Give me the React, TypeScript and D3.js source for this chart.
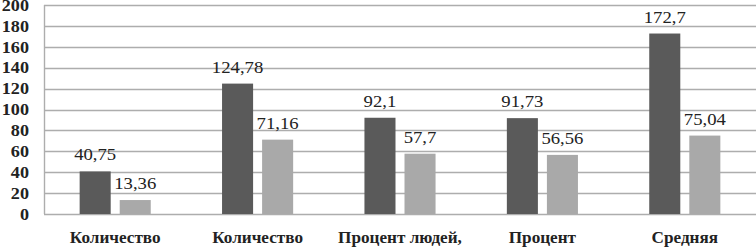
import { useEffect, useRef } from "react";
import * as d3 from "d3";

const categories = ["Количество", "Количество", "Процент людей,", "Процент", "Средняя"];
const seriesA = [40.75, 124.78, 92.1, 91.73, 172.7];
const seriesB = [13.36, 71.16, 57.7, 56.56, 75.04];
const yTicks = [0, 20, 40, 60, 80, 100, 120, 140, 160, 180, 200];

const fmt = (v: number) => String(v).replace(".", ",");

export default function App() {
  const svgRef = useRef<SVGSVGElement>(null);

  useEffect(() => {
    const el = svgRef.current;
    if (!el) return;
    const w = 756;
    const h = 247;
    const left = 44;
    const right = 756;
    const top = 5;
    const bottom = 214;
    const stretch = 1.1; // the scanned text is a bit wider than it is tall

    const svg = d3.select(el);
    svg.selectAll("*").remove();
    svg.append("rect").attr("width", w).attr("height", h).attr("fill", "#fff");

    const x = d3.scaleBand<number>().domain(d3.range(categories.length)).range([left, right]);
    const inner = d3
      .scaleBand<number>()
      .domain([0, 1])
      .range([0, x.bandwidth()])
      .paddingInner(0.225)
      .paddingOuter(0.89);
    const y = d3.scaleLinear().domain([0, 200]).range([bottom, top]);

    const font = "'Liberation Serif', 'DejaVu Serif', serif";

    // gridlines
    svg
      .append("g")
      .selectAll("line")
      .data(yTicks)
      .join("line")
      .attr("x1", left)
      .attr("x2", right)
      .attr("y1", (d) => Math.round(y(d)) + 0.5)
      .attr("y2", (d) => Math.round(y(d)) + 0.5)
      .attr("stroke", "#adadad")
      .attr("stroke-width", 1.4);

    // axis line
    svg
      .append("line")
      .attr("x1", left + 0.5)
      .attr("x2", left + 0.5)
      .attr("y1", top)
      .attr("y2", bottom)
      .attr("stroke", "#adadad")
      .attr("stroke-width", 1.4);

    // y tick labels
    svg
      .append("g")
      .selectAll("text")
      .data(yTicks)
      .join("text")
      .attr("transform", (d) => `translate(29,${y(d)}) scale(${stretch},1)`)
      .attr("dy", "0.35em")
      .attr("text-anchor", "end")
      .style("font-family", font)
      .style("font-weight", "bold")
      .style("font-size", "16.5px")
      .attr("fill", "#222")
      .text((d) => d);

    const series = [
      { values: seriesA, color: "#5a5a5a" },
      { values: seriesB, color: "#a9a9a9" },
    ];

    series.forEach((s, si) => {
      const g = svg.append("g");
      g.selectAll("rect")
        .data(s.values)
        .join("rect")
        .attr("x", (_, i) => (x(i) ?? 0) + (inner(si) ?? 0))
        .attr("y", (d) => y(d))
        .attr("width", inner.bandwidth())
        .attr("height", (d) => bottom - y(d))
        .attr("fill", s.color);
      g.selectAll("text")
        .data(s.values)
        .join("text")
        .attr(
          "transform",
          (d, i) =>
            `translate(${(x(i) ?? 0) + (inner(si) ?? 0) + inner.bandwidth() / 2},${y(d) - 11}) scale(${stretch},1)`
        )
        .attr("text-anchor", "middle")
        .style("font-family", font)
        .style("font-size", "17px")
        .attr("fill", "#222")
        .text((d) => fmt(d));
    });

    // category labels
    svg
      .append("g")
      .selectAll("text")
      .data(categories)
      .join("text")
      .attr("transform", (_, i) => `translate(${(x(i) ?? 0) + x.bandwidth() / 2},243) scale(1.04,1)`)
      .attr("text-anchor", "middle")
      .style("font-family", font)
      .style("font-weight", "bold")
      .style("font-size", "16.5px")
      .attr("fill", "#222")
      .text((d) => d);
  }, []);

  return (
    <svg
      ref={svgRef}
      width={756}
      height={247}
      style={{ position: "absolute", left: 0, top: 0, display: "block" }}
    />
  );
}
